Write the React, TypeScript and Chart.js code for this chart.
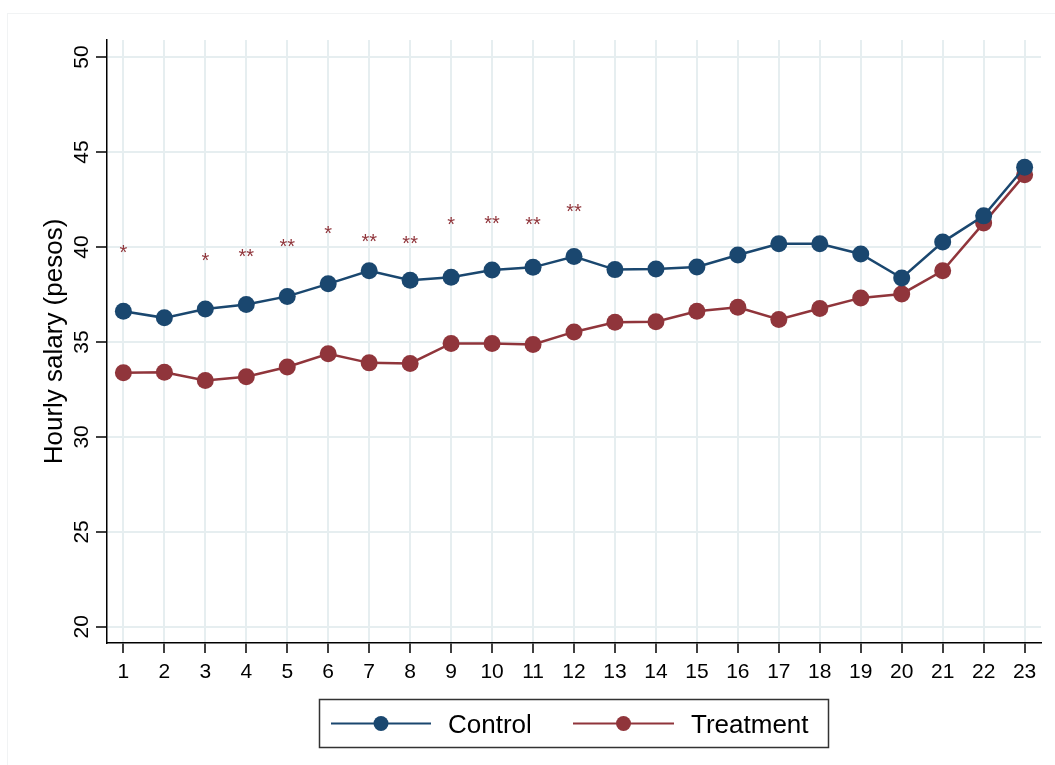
import React, { useEffect, useRef } from "react";
import { Chart, registerables } from "chart.js";

Chart.register(...registerables);

const periods = [1, 2, 3, 4, 5, 6, 7, 8, 9, 10, 11, 12, 13, 14, 15, 16, 17, 18, 19, 20, 21, 22, 23];
const controlValues = [36.62, 36.27, 36.74, 36.97, 37.4, 38.06, 38.75, 38.25, 38.41, 38.79, 38.93, 39.5, 38.81, 38.84, 38.95, 39.58, 40.17, 40.17, 39.63, 38.37, 40.26, 41.64, 44.2];
const treatmentValues = [33.38, 33.41, 32.97, 33.17, 33.68, 34.38, 33.9, 33.87, 34.92, 34.92, 34.87, 35.53, 36.04, 36.07, 36.62, 36.83, 36.18, 36.76, 37.32, 37.53, 38.75, 41.26, 43.8];
const starLabels = ["*", "", "*", "**", "**", "*", "**", "**", "*", "**", "**", "**", "", "", "", "", "", "", "", "", "", "", ""];
const starLevels = [39.95, null, 39.54, 39.74, 40.24, 40.95, 40.51, 40.44, 41.43, 41.5, 41.43, 42.1, null, null, null, null, null, null, null, null, null, null, null];
const yTicks = [20, 25, 30, 35, 40, 45, 50];
const seriesNames = ["Control", "Treatment"];
const yTitle = "Hourly salary (pesos)";

const NAVY = "#1a476f";
const MAROON = "#90353b";
const GRID = "#e6eef0";
const FONT = "'Liberation Sans', Arial, sans-serif";

export default function App() {
  const ref = useRef<HTMLCanvasElement | null>(null);

  useEffect(() => {
    document.body.style.margin = "0";
    const canvas = ref.current;
    if (!canvas) return;

    const overlay = {
      id: "overlay",
      beforeDraw(chart: any) {
        const ctx = chart.ctx;
        ctx.save();
        ctx.fillStyle = "#ffffff";
        ctx.fillRect(0, 0, chart.width, chart.height);
        ctx.strokeStyle = "#f1f3f4";
        ctx.lineWidth = 1;
        ctx.strokeRect(7.5, 13.5, chart.width + 20, chart.height + 20);
        ctx.restore();
      },
      afterDraw(chart: any) {
        const ctx = chart.ctx;
        const xs = chart.scales.x;
        const ys = chart.scales.y;
        ctx.save();
        // y tick labels (rotated)
        ctx.fillStyle = "#000";
        ctx.font = `21px ${FONT}`;
        ctx.textAlign = "center";
        ctx.textBaseline = "alphabetic";
        yTicks.forEach((v) => {
          ctx.save();
          ctx.translate(87.5, ys.getPixelForValue(v));
          ctx.rotate(-Math.PI / 2);
          ctx.fillText(String(v), 0, 0);
          ctx.restore();
        });
        // y title
        ctx.font = `26px ${FONT}`;
        ctx.save();
        ctx.translate(62, (chart.chartArea.top + chart.chartArea.bottom) / 2);
        ctx.rotate(-Math.PI / 2);
        ctx.fillText(yTitle, 0, 0);
        ctx.restore();
        // significance stars
        ctx.fillStyle = MAROON;
        ctx.font = `20px ${FONT}`;
        starLabels.forEach((s, i) => {
          const lvl = starLevels[i];
          if (!s || lvl == null) return;
          ctx.fillText(s, xs.getPixelForValue(periods[i]), ys.getPixelForValue(lvl) + 11);
        });
        // legend
        ctx.strokeStyle = "#333";
        ctx.lineWidth = 1.5;
        ctx.strokeRect(319.5, 699.5, 509, 48);
        const items = [
          { name: seriesNames[0], color: NAVY, x0: 331, x1: 431, tx: 448 },
          { name: seriesNames[1], color: MAROON, x0: 573, x1: 674, tx: 691 },
        ];
        const ly = 723.5;
        ctx.textAlign = "left";
        ctx.font = `26px ${FONT}`;
        items.forEach((it) => {
          ctx.strokeStyle = it.color;
          ctx.lineWidth = 2;
          ctx.beginPath();
          ctx.moveTo(it.x0, ly);
          ctx.lineTo(it.x1, ly);
          ctx.stroke();
          ctx.fillStyle = it.color;
          ctx.beginPath();
          ctx.arc((it.x0 + it.x1) / 2, ly, 7.5, 0, Math.PI * 2);
          ctx.fill();
          ctx.fillStyle = "#000";
          ctx.fillText(it.name, it.tx, ly + 9.5);
        });
        ctx.restore();
      },
    };

    const chart = new Chart(canvas, {
      type: "line",
      data: {
        datasets: [
          {
            label: seriesNames[0],
            data: periods.map((p, i) => ({ x: p, y: controlValues[i] })),
            borderColor: NAVY,
            backgroundColor: NAVY,
            borderWidth: 2.5,
            pointRadius: 8.5,
            pointBorderWidth: 0,
            pointBackgroundColor: NAVY,
            tension: 0,
          },
          {
            label: seriesNames[1],
            data: periods.map((p, i) => ({ x: p, y: treatmentValues[i] })),
            borderColor: MAROON,
            backgroundColor: MAROON,
            borderWidth: 2.5,
            pointRadius: 8.5,
            pointBorderWidth: 0,
            pointBackgroundColor: MAROON,
            tension: 0,
          },
        ],
      },
      options: {
        responsive: false,
        animation: false,
        devicePixelRatio: 1,
        layout: { padding: { top: 40, right: 14, left: 0, bottom: 72 } },
        plugins: { legend: { display: false }, tooltip: { enabled: false } },
        scales: {
          x: {
            type: "linear",
            min: 0.6,
            max: 23.4,
            afterBuildTicks: (scale: any) => {
              scale.ticks = periods.map((v) => ({ value: v }));
            },
            afterFit: (scale: any) => {
              scale.height = 50;
            },
            grid: {
              color: GRID,
              lineWidth: 2,
              tickLength: 10,
              tickColor: "#000",
              tickWidth: 1.5,
              drawTicks: true,
            },
            border: { display: true, color: "#000", width: 1.5 },
            ticks: {
              color: "#000",
              font: { family: FONT, size: 21 },
              padding: 7,
              maxRotation: 0,
              minRotation: 0,
              autoSkip: false,
              callback: (v: any) => String(v),
            },
          },
          y: {
            type: "linear",
            min: 19.15,
            max: 50.9,
            afterBuildTicks: (scale: any) => {
              scale.ticks = yTicks.map((v) => ({ value: v }));
            },
            afterFit: (scale: any) => {
              scale.width = 107;
            },
            grid: {
              color: GRID,
              lineWidth: 2,
              tickLength: 11,
              tickColor: "#000",
              tickWidth: 1.5,
              drawTicks: true,
            },
            border: { display: true, color: "#000", width: 1.5 },
            ticks: { display: false },
          },
        },
      },
      plugins: [overlay],
    });

    return () => chart.destroy();
  }, []);

  return (
    <div style={{ position: "absolute", left: 0, top: 0, width: 1055, height: 765 }}>
      <canvas ref={ref} width={1055} height={765} style={{ width: 1055, height: 765 }} />
    </div>
  );
}
